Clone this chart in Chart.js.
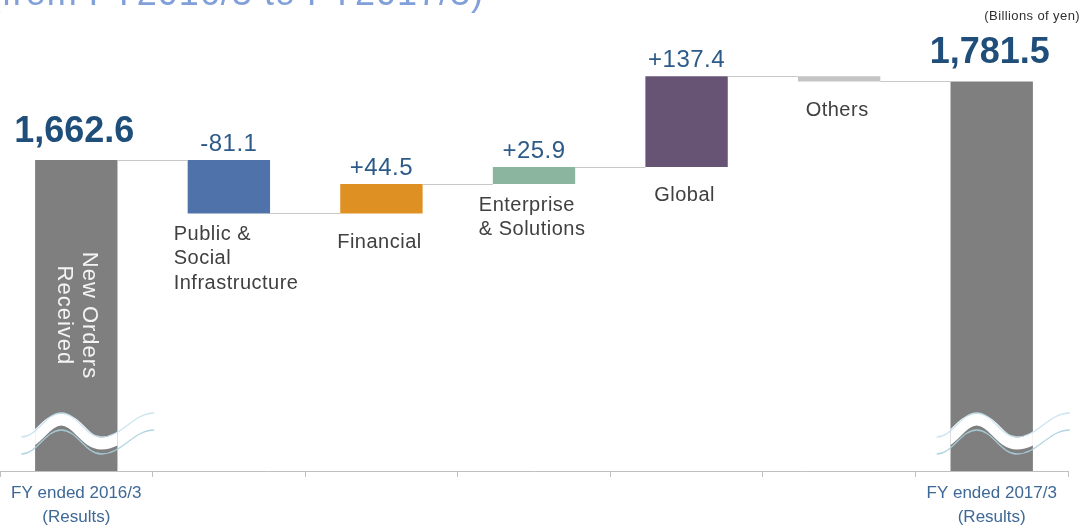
<!DOCTYPE html>
<html>
<head>
<meta charset="utf-8">
<script src="https://cdn.jsdelivr.net/npm/chart.js@4/dist/chart.umd.min.js"></script>
<style>
  html, body { margin: 0; padding: 0; background: #ffffff; overflow: hidden; }
  #wrap { width: 1089px; height: 529px; position: relative; }
</style>
</head>
<body>
<div id="wrap"><canvas id="c" width="1089" height="529"></canvas></div>
<script>
// ---------- data ----------
const categories = ['FY ended 2016/3', 'Public & Social Infrastructure', 'Financial', 'Enterprise & Solutions', 'Global', 'Others', 'FY ended 2017/3'];
const axisLabels = [['FY ended 2016/3', '(Results)'], '', '', '', '', '', ['FY ended 2017/3', '(Results)']];
const barLabels = [[], ['Public &', 'Social', 'Infrastructure'], ['Financial'], ['Enterprise', '& Solutions'], ['Global'], ['Others'], []];
const startTotal = 1662.6;
const endTotal = 1781.5;
const changes = [-81.1, 44.5, 25.9, 137.4, -7.8];
const changeLabels = ['-81.1', '+44.5', '+25.9', '+137.4', ''];
const totalLabels = ['1,662.6', '1,781.5'];
const barColors = ['#7f7f7f', '#4e72a9', '#df9023', '#8bb59e', '#675475', '#c4c4c4', '#7f7f7f'];
const insideLabel = ['New Orders', 'Received'];
const unitLabel = '(Billions of yen)';
const titleText = '(from FY2016/3 to FY2017/3)';

// ---------- build waterfall from the arrays ----------
const barData = [startTotal];
const levels = [startTotal];
let level = startTotal;
changes.forEach(d => {
  const next = level + d;
  barData.push([Math.min(level, next), Math.max(level, next)]);
  level = next;
  levels.push(level);
});
barData.push(endTotal);

const FONT = "'Liberation Sans', Arial, Helvetica, sans-serif";
function spacing(ctx, v) { if ('letterSpacing' in ctx) ctx.letterSpacing = v; }

function wave(ctx, cx, y0, dy) {
  const A = 12;
  const x0 = cx - 55, x1 = cx - 15, x2 = cx + 25, x3 = cx + 78;
  const k = 0.4;
  ctx.beginPath();
  ctx.moveTo(x0, y0 + A + dy);
  ctx.bezierCurveTo(x0 + (x1 - x0) * k, y0 + A + dy, x1 - (x1 - x0) * k, y0 - A + dy, x1, y0 - A + dy);
  ctx.bezierCurveTo(x1 + (x2 - x1) * k, y0 - A + dy, x2 - (x2 - x1) * k, y0 + A + dy, x2, y0 + A + dy);
  ctx.bezierCurveTo(x2 + (x3 - x2) * k, y0 + A + dy, x3 - (x3 - x2) * k, y0 - A + dy, x3, y0 - A + dy);
}

const annotations = {
  id: 'annotations',
  afterDatasetsDraw(chart) {
    const { ctx, chartArea } = chart;
    const meta = chart.getDatasetMeta(0);
    const yScale = chart.scales.y;
    const els = meta.data;
    ctx.save();

    // connector lines
    ctx.strokeStyle = '#c8c8c8';
    ctx.lineWidth = 1;
    for (let i = 0; i < levels.length; i++) {
      const a = els[i], b = els[i + 1];
      const py = Math.round(yScale.getPixelForValue(levels[i])) + 0.5;
      ctx.beginPath();
      ctx.moveTo(a.x + a.width / 2, py);
      ctx.lineTo(b.x - b.width / 2, py);
      ctx.stroke();
    }

    // break marks on the total bars
    [0, els.length - 1].forEach(i => {
      const el = els[i];
      const y0 = chartArea.bottom - 46;
      ctx.save();
      ctx.beginPath();
      ctx.rect(el.x - el.width / 2, chartArea.top, el.width, chartArea.bottom - chartArea.top);
      ctx.clip();
      ctx.strokeStyle = '#ffffff';
      ctx.lineWidth = 12;
      wave(ctx, el.x, y0, 6.5);
      ctx.stroke();
      ctx.restore();
      ctx.lineWidth = 1.3;
      ctx.strokeStyle = 'rgba(196,226,238,0.9)';
      wave(ctx, el.x, y0, 0);
      ctx.stroke();
      ctx.strokeStyle = 'rgba(170,208,222,0.9)';
      wave(ctx, el.x, y0, 17);
      ctx.stroke();
    });

    // rotated label inside the first bar
    {
      const el = els[0];
      const top = Math.min(el.y, el.base);
      const cy = (top + chartArea.bottom) / 2;
      ctx.save();
      ctx.translate(el.x, cy);
      ctx.rotate(Math.PI / 2);
      ctx.fillStyle = '#f4f4f4';
      ctx.font = '22px ' + FONT;
      spacing(ctx, '1px');
      ctx.textAlign = 'center';
      ctx.textBaseline = 'middle';
      ctx.fillText(insideLabel[0], 0, -13);
      ctx.fillText(insideLabel[1], 0, 12);
      ctx.restore();
    }

    // change value labels
    ctx.font = '24px ' + FONT;
    spacing(ctx, '0.5px');
    ctx.fillStyle = '#2d5a88';
    ctx.textAlign = 'center';
    ctx.textBaseline = 'middle';
    changeLabels.forEach((t, j) => {
      if (!t) return;
      const el = els[j + 1];
      const top = Math.min(el.y, el.base);
      ctx.fillText(t, el.x, top - 16);
    });

    // total labels
    ctx.font = 'bold 36px ' + FONT;
    spacing(ctx, '0px');
    ctx.fillStyle = '#1f4e7a';
    [0, els.length - 1].forEach((i, j) => {
      const el = els[i];
      const top = Math.min(el.y, el.base);
      ctx.fillText(totalLabels[j], el.x - 2, top - 28);
    });

    // category labels under the change bars
    ctx.font = '20px ' + FONT;
    spacing(ctx, '0.5px');
    ctx.fillStyle = '#404040';
    barLabels.forEach((lines, i) => {
      if (!lines.length) return;
      const el = els[i];
      const bottom = Math.max(el.y, el.base);
      if (lines.length > 1) {
        ctx.textAlign = 'left';
        lines.forEach((ln, k) => ctx.fillText(ln, el.x - el.width / 2 - 14, bottom + 21 + k * 24.5));
      } else {
        ctx.textAlign = 'center';
        ctx.fillText(lines[0], el.x - 2, bottom + 29);
      }
    });

    // unit label
    ctx.font = '13px ' + FONT;
    spacing(ctx, '0.4px');
    ctx.fillStyle = '#303030';
    ctx.textAlign = 'right';
    ctx.fillText(unitLabel, chart.width - 9, 16);

    // title (mostly cut off at the top edge)
    ctx.font = '36px ' + FONT;
    spacing(ctx, '1px');
    ctx.fillStyle = '#819fd8';
    ctx.textAlign = 'right';
    ctx.textBaseline = 'alphabetic';
    ctx.fillText(titleText, 484, 5);

    spacing(ctx, '0px');
    ctx.restore();
  }
};

new Chart(document.getElementById('c'), {
  type: 'bar',
  data: {
    labels: categories,
    datasets: [{
      data: barData,
      backgroundColor: barColors,
      borderWidth: 0,
      barPercentage: 0.54,
      categoryPercentage: 1.0
    }]
  },
  options: {
    responsive: false,
    animation: false,
    devicePixelRatio: 1,
    layout: { padding: { left: 0, right: 21, top: 0, bottom: 0 } },
    plugins: { legend: { display: false }, tooltip: { enabled: false }, title: { display: false } },
    scales: {
      x: {
        offset: true,
        grid: { display: true, offset: true, drawOnChartArea: false, drawTicks: true, tickLength: 6, color: '#bfbfbf', lineWidth: 1 },
        border: { display: true, color: '#bfbfbf', width: 1 },
        ticks: {
          autoSkip: false, maxRotation: 0, padding: 4,
          color: '#3e6896',
          font: { family: FONT, size: 17, lineHeight: 1.44 },
          callback: (v, i) => axisLabels[i]
        },
        afterFit: s => { s.height = 58; }
      },
      y: { display: false, min: 1191, max: 1905 }
    }
  },
  plugins: [annotations]
});
</script>
</body>
</html>
